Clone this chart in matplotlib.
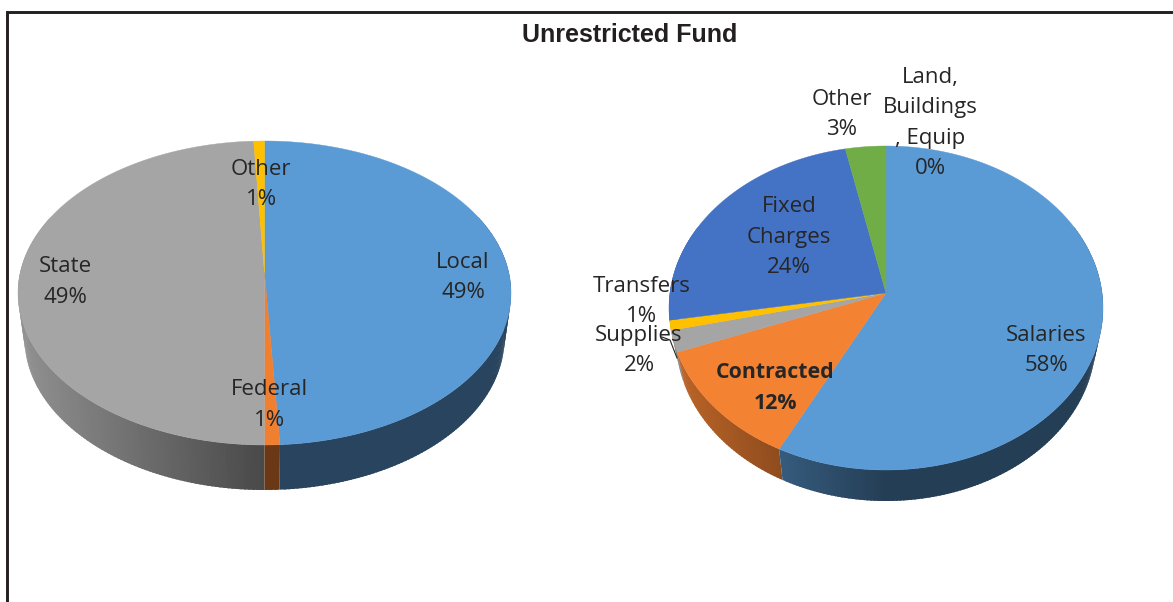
'''
Unrestricted Fund, revenue and spending as two tilted pies
'''

import numpy as np
import matplotlib.pyplot as plt

plt.rcParams.update({'font.family': ['Open Sans', 'DejaVu Sans']})

title = "Unrestricted Fund"

# slices run clockwise from twelve o'clock
revenue_names = ["Local\n49%", "Federal\n1%", "State\n49%", "Other\n1%"]
revenue_values = [49.0, 1.0, 49.3, 0.7]
revenue_colors = ["#5B9BD5", "#F07F30", "#A5A5A5", "#FFC000"]

spending_names = ["Salaries\n58%", "Contracted\n12%", "Supplies\n2%", "Transfers\n1%",
                  "Fixed\nCharges\n24%", "Other\n3%", "Land,\nBuildings\n, Equip\n0%"]
# read from the slice edges, the printed labels are rounded
spending_values = [58.2, 12.4, 2.2, 1.0, 23.2, 3.0, 0]
spending_colors = ["#5B9BD5", "#F38233", "#A5A5A5", "#FFC000", "#4472C4", "#70AD47", "#264478"]

# label centres in pixels
revenue_label_pos = [(463, 277.5), (269, 405), (65, 282), (261, 184.5)]
spending_label_pos = [(1046, 350.5), (775, 388), (639, 350.5), (642, 301.5),
                      (789, 237), (842, 114.5), (930, 123)]


def shade(color, factor):
    rgb = np.array(plt.matplotlib.colors.to_rgb(color))
    return tuple(np.clip(rgb * factor, 0, 1))


def rim(t, cx, cy, rx, ry):
    return cx + rx * np.sin(t), cy - ry * np.cos(t)


def draw_pie(ax, values, colors, cx, cy, rx, ry, pivot_y, depth, wall_rx, base, gain):
    edges = np.radians(np.cumsum([0] + list(values)) / np.sum(values) * 360)

    # side wall first, the top is painted over it
    # strips go left to right and overlap the next one so no seams show
    for start, stop, color in reversed(list(zip(edges[:-1], edges[1:], colors))):
        lo, hi = max(start, np.radians(60)), min(stop, np.radians(300))
        if hi <= lo:
            continue
        steps = np.linspace(lo, hi, max(2, int(np.degrees(hi - lo)) + 1))
        for a, b in reversed(list(zip(steps[:-1], steps[1:]))):
            mid = (a + b) / 2
            u = max(0, -np.sin(mid))
            c = shade(color, base + gain * u)
            t = np.array([max(a - 0.012, lo), b])
            x1, y1 = rim(t, cx, cy, rx, ry)
            x2, y2 = rim(t[::-1], cx, cy + depth, wall_rx, ry)
            ax.fill(np.r_[x1, x2], np.r_[y1, y2], facecolor=c, edgecolor='none', zorder=1)

    for start, stop, color in zip(edges[:-1], edges[1:], colors):
        if stop <= start:
            continue
        t = np.linspace(start, stop, max(2, int(np.degrees(stop - start)) * 2))
        x, y = rim(t, cx, cy, rx, ry)
        ax.fill(np.r_[cx, x], np.r_[pivot_y, y], color=color, lw=0.3, zorder=2)


fig = plt.figure(figsize=(11.73, 6.02), dpi=100)
ax = fig.add_axes([0, 0, 1, 1])
ax.set_xlim(0, 1173)
ax.set_ylim(602, 0)
ax.axis('off')

# frame left over from the page
ax.plot([6.5, 6.5, 1173], [602, 11.5, 11.5], color='#231F20', lw=2.1, solid_joinstyle='miter')

draw_pie(ax, revenue_values, revenue_colors, 264.5, 293, 246.5, 152, 273, 45, 240, 0.44, 0.44)
draw_pie(ax, spending_values, spending_colors, 886, 308, 217, 162, 293, 31, 210, 0.40, 0.38)

# leader for the supplies label
ax.plot([662, 670, 677], [337, 340, 358], color='#222222', lw=0.8, zorder=3)

for name, (x, y) in zip(revenue_names, revenue_label_pos):
    ax.text(x, y, name, ha='center', va='center', fontsize=16, color='#262626',
            linespacing=1.6, zorder=4)
for name, (x, y) in zip(spending_names, spending_label_pos):
    bold = name.startswith('Contracted')
    ax.text(x, y, name, ha='center', va='center', fontsize=15.3 if bold else 16, color='#262626',
            fontweight='bold' if bold else 'normal', linespacing=1.6, zorder=4)

ax.text(630, 35, title, ha='center', va='center', fontsize=18, fontweight='bold',
        family='Liberation Sans', color='#231F20', zorder=4)

fig.savefig("out.png", dpi=100)
